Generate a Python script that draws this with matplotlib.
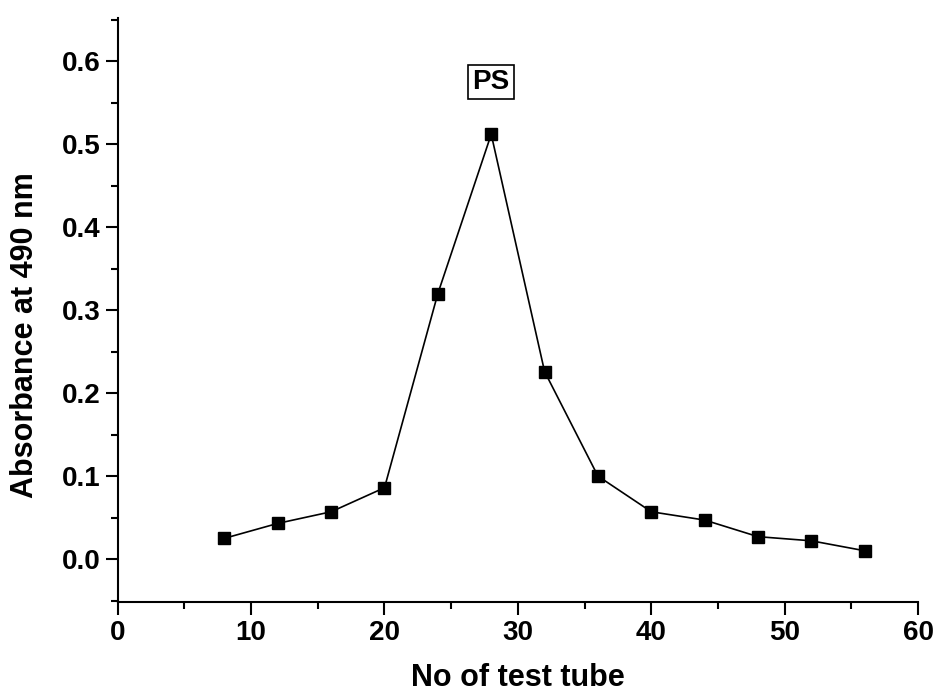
import matplotlib
matplotlib.use("Agg")
import matplotlib.pyplot as plt
from matplotlib.ticker import MultipleLocator

# Tube numbers and absorbance readings
tube_no = [8, 12, 16, 20, 24, 28, 32, 36, 40, 44, 48, 52, 56]
absorbance = [0.025, 0.043, 0.057, 0.086, 0.320, 0.512, 0.226, 0.100,
              0.057, 0.047, 0.027, 0.022, 0.010]

plt.rcParams["font.family"] = ["Liberation Sans", "DejaVu Sans"]
plt.rcParams["font.weight"] = "bold"

fig = plt.figure(figsize=(9.34, 6.97), dpi=100)
ax = fig.add_axes([0.126, 0.136, 0.857, 0.838])

ax.plot(tube_no, absorbance, "k-", linewidth=1.2, marker="s",
        markersize=8.5, markerfacecolor="black", markeredgecolor="black")

ax.text(28, 0.575, "PS", ha="center", va="center", fontsize=20,
        fontweight="bold",
        bbox=dict(boxstyle="square,pad=0.15", facecolor="white",
                  edgecolor="black", linewidth=1.2))

ax.set_xlim(0, 60)
ax.set_ylim(-0.052, 0.652)
ax.xaxis.set_major_locator(MultipleLocator(10))
ax.xaxis.set_minor_locator(MultipleLocator(5))
ax.yaxis.set_major_locator(MultipleLocator(0.1))
ax.yaxis.set_minor_locator(MultipleLocator(0.05))
ax.yaxis.set_major_formatter(plt.FormatStrFormatter("%.1f"))

ax.spines["top"].set_visible(False)
ax.spines["right"].set_visible(False)
ax.spines["left"].set_linewidth(1.5)
ax.spines["bottom"].set_linewidth(1.5)
ax.tick_params(which="major", direction="out", length=9, width=1.5,
               labelsize=20)
ax.tick_params(which="minor", direction="out", length=5, width=1.5)

ax.set_xlabel("No of test tube", fontsize=22, fontweight="bold")
ax.set_ylabel("Absorbance at 490 nm", fontsize=22, fontweight="bold")
ax.xaxis.set_label_coords(0.5, -0.104)
ax.yaxis.set_label_coords(-0.097, 0.457)

fig.savefig("out.png", dpi=100)
